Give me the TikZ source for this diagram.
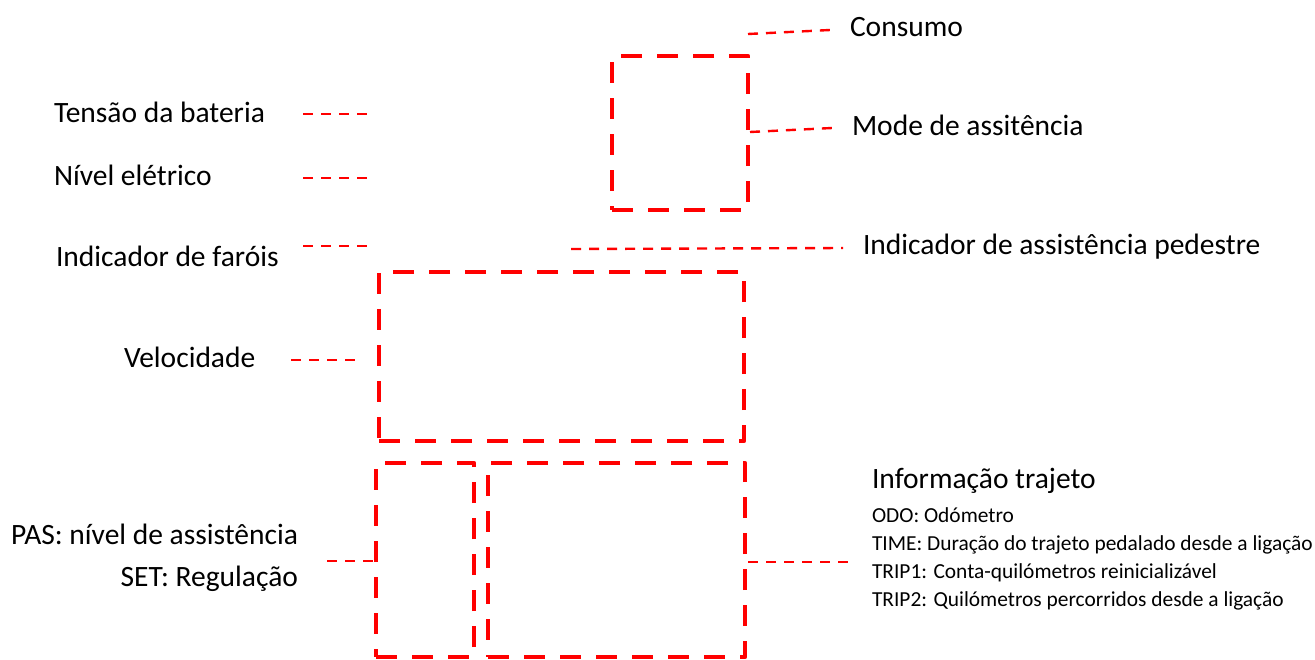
\documentclass[tikz,border=0pt]{standalone}
\usepackage{fontspec}
\setmainfont{Carlito}
\begin{document}
\begin{tikzpicture}[x=1pt,y=-1pt,
  bigbox/.style={draw=red, line width=4.5pt, dash pattern=on 21pt off 15pt, line join=round, inner sep=0pt, outer sep=0pt},
  lead/.style={draw=red, line width=2.4pt, dash pattern=on 10pt off 8pt},
  lbl/.style={inner sep=0pt, outer sep=0pt, font=\fontsize{29.5}{34}\selectfont},
  sml/.style={inner sep=0pt, outer sep=0pt, font=\fontsize{21.4}{28}\selectfont}]
\useasboundingbox (0,0) rectangle (1315,659);

% boxes
\node[bigbox, minimum width=136pt, minimum height=154pt] (mode) at (680,133) {};
\node[bigbox, minimum width=365pt, minimum height=169pt] (speed) at (561.5,356.5) {};
\node[bigbox, minimum width=98pt, minimum height=194pt] (pas) at (425,560) {};
\node[bigbox, minimum width=257pt, minimum height=194pt] (trip) at (616.5,560) {};

% labels
\node[lbl, anchor=base west] (consumo) at (850,36) {Consumo};
\node[lbl, anchor=base west] (modeL) at (852,135) {Mode de assitência};
\node[lbl, anchor=base west] (tensao) at (54,122) {Tensão da bateria};
\node[lbl, anchor=base west] (nivel) at (54,185) {Nível elétrico};
\node[lbl, anchor=base west] (farois) at (56,266) {Indicador de faróis};
\node[lbl, anchor=base west] (pedestre) at (863,254) {Indicador de assistência pedestre};
\node[lbl, anchor=base west] (veloc) at (124,367) {Velocidade};
\node[lbl, anchor=base east] (pasL) at (298,544) {PAS: nível de assistência};
\node[lbl, anchor=base east] (setL) at (298,586) {SET: Regulação};
\node[lbl, anchor=base west] (info) at (872,488) {Informação trajeto};
\node[sml, anchor=base west] (odo) at (872,522) {ODO: Odómetro};
\node[sml, anchor=base west] (time) at (872,550) {TIME: Duração do trajeto pedalado desde a ligação};
\node[sml, anchor=base west] (trip1) at (872,578) {TRIP1: Conta-quilómetros reinicializável};
\node[sml, anchor=base west] (trip2) at (872,606) {TRIP2: Quilómetros percorridos desde a ligação};

% leader end points
\coordinate (c1a) at (748,34);  \coordinate (c1b) at (830,30);
\coordinate (m1a) at (750,132); \coordinate (m1b) at (832,128);
\coordinate (t1a) at (303,114); \coordinate (t1b) at (371,114);
\coordinate (n1a) at (303,178); \coordinate (n1b) at (371,178);
\coordinate (f1a) at (303,246); \coordinate (f1b) at (371,246);
\coordinate (p1a) at (571,249); \coordinate (p1b) at (843,248);
\coordinate (v1a) at (291,360); \coordinate (v1b) at (357,360);
\coordinate (s1a) at (327,561); \coordinate (s1b) at (376,561);
\coordinate (i1a) at (748,562); \coordinate (i1b) at (852,562);

% leaders
\draw[lead] (c1a) -- (c1b);
\draw[lead] (m1a) -- (m1b);
\draw[lead] (t1a) -- (t1b);
\draw[lead] (n1a) -- (n1b);
\draw[lead] (f1a) -- (f1b);
\draw[lead] (p1a) -- (p1b);
\draw[lead] (v1a) -- (v1b);
\draw[lead] (s1a) -- (s1b);
\draw[lead] (i1a) -- (i1b);
\end{tikzpicture}
\end{document}
